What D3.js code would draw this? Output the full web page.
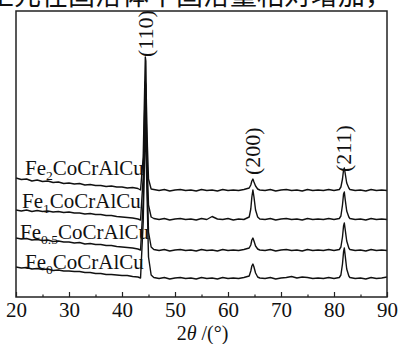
<!DOCTYPE html>
<html><head><meta charset="utf-8">
<script src="https://cdn.jsdelivr.net/npm/d3@7"></script>
<style>
html,body{margin:0;padding:0;background:#fff;}
svg{display:block;}
</style></head>
<body>
<script>
// ---------- data ----------
const twoTheta = [20,21,22,23,24,25,26,27,28,29,30,31,32,33,34,35,36,37,38,39,40,41,42,43,
  43.5,44.0,44.2,44.4,44.5,44.6,44.8,45.0,45.5,
  46,47,48,49,50,51,52,53,54,55,56,57,58,59,60,61,62,63,
  64.0,64.3,64.5,64.7,64.9,65.2,65.6,
  66,67,68,69,70,71,72,73,74,75,76,77,78,79,80,81,
  81.3,81.6,81.8,81.95,82.1,82.4,82.8,
  83,84,85,86,87,88,89,90];

const fe2 = [119,117.5,118,116,117,115.5,116,114.5,115,113.5,114,113,113.5,112,112.5,111.5,111.5,110.5,111,110,110,109,109.5,108.5,
  107,140,190,240,236,195,150,118,108,
  107.5,106.5,107.5,106,107,107.5,106.5,107,106,107.5,106.5,107,106,107.5,106.5,107,106.5,107.5,
  109,112,116,118,115,111,108,
  107,106.5,107.5,106,107,107.5,106.5,107,106,107.5,106.5,107,106.5,107.5,106.5,107.5,
  110,118,127,129,124,114,109,
  107.5,106.5,107,106,107.5,106.5,107,106.5];

const fe1 = [87,86,87,85.5,86.5,85.5,86,85,85.5,84.5,85,84,84,83,83.5,82.5,82.5,81.5,81.5,80.5,80,79.5,79,78,
  77,120,170,215,212,170,125,92,80,
  78.5,77.5,78.5,77,78,78.5,77.5,78,77,78.5,77.5,80.5,78,77.5,78.5,77,78,77.5,
  80,88,100,107,100,87,80,
  78,77.5,78.5,77,78,78.5,77.5,78,77,78.5,77.5,78,77.5,78.5,77.5,78.5,
  81,92,103,105,98,86,80,
  78.5,77.5,78,77,78.5,77.5,78,77.5];

const fe05 = [59,58,58.5,57,57.5,56.5,57,55.5,56,55,55,54,54.5,53,53.5,52.5,52.5,51.5,51.5,50.5,50,49.5,49,48,
  47,95,145,190,186,150,105,65,50,
  47.5,46.5,47.5,46,47,47.5,46.5,47,46,47.5,46.5,47,46,47.5,46.5,47,46.5,47.5,
  49,52,57,59,56,51,48,
  47,46.5,47.5,46,47,47.5,46.5,47,46,47.5,46.5,47,46.5,47.5,46.5,47.5,
  50,60,71,74,68,56,49,
  47.5,46.5,47,46,47.5,46.5,47,46.5];

const fe0 = [30,29,29.5,28,28.5,27.5,28,26.5,27,26,26,25.5,25.5,24.5,24.5,23.5,23.5,22.5,22.5,22,21.5,21.5,20.5,20,
  19,75,125,170,166,130,85,40,22,
  19.5,18.5,19.5,18,19,19.5,18.5,19,18,19.5,18.5,19,18,19.5,18.5,19,18.5,19.5,
  21,26,31,33,30,24,20,
  19,18.5,19.5,18,19,19.5,20.5,19,20,19.5,18.5,19,18.5,19.5,18.5,19.5,
  22,33,45,49,42,28,21,
  19.5,18.5,19,18,19.5,18.5,19,20];

const seriesNames = ["Fe2CoCrAlCu","Fe1CoCrAlCu","Fe0.5CoCrAlCu","Fe0CoCrAlCu"];
const labelBase = ["Fe","Fe","Fe","Fe"];
const labelSub = ["2","1","0.5","0"];
const labelRest = ["CoCrAlCu","CoCrAlCu","CoCrAlCu","CoCrAlCu"];
const peakLabels = ["(110)","(200)","(211)"];
const peakAngles = [44.5,64.7,81.9];
const xTicks = [20,30,40,50,60,70,80,90];
const xMinorTicks = [25,35,45,55,65,75,85];
const xTitle = ["2","θ"," /(°)"];
const caption = "生元在固溶体中固溶量相对增加，";

// ---------- layout ----------
const W = 398, H = 344;
const L = 16, R = 387, T = 11, B = 297;
const svg = d3.select("body").append("svg").attr("width", W).attr("height", H);

const x = d3.scaleLinear().domain([20, 90]).range([L, R]);
const y = d3.scaleLinear().domain([0, 286]).range([B, T]);

// caption (cut off at top, as in the source image)
svg.append("text").attr("x", -13).attr("y", 5)
  .attr("font-family", "'Noto Sans CJK SC'").attr("font-size", 27)
  .attr("fill", "#111").text(caption);

// traces
const allSeries = [fe2, fe1, fe05, fe0];
const line = d3.line().x((d, i) => x(twoTheta[i])).y(d => y(d));
svg.append("g").selectAll("path").data(allSeries).join("path")
  .attr("d", d => line(d))
  .attr("fill", "none").attr("stroke", "#111").attr("stroke-width", 1.4)
  .attr("stroke-linejoin", "round");

// frame
svg.append("rect").attr("x", L).attr("y", T).attr("width", R - L).attr("height", B - T)
  .attr("fill", "none").attr("stroke", "#222").attr("stroke-width", 1.5);

// x axis
const ax = svg.append("g").attr("transform", `translate(0,${B})`)
  .call(d3.axisBottom(x).tickValues(xTicks).tickSizeInner(-5).tickSizeOuter(0).tickPadding(5).tickFormat(d3.format("d")));
ax.select(".domain").remove();
ax.selectAll("line").attr("stroke", "#222").attr("stroke-width", 1.2);
ax.selectAll("text").attr("font-family", "'Liberation Serif'").attr("font-size", 21).attr("fill", "#111");

const axm = svg.append("g").attr("transform", `translate(0,${B})`)
  .call(d3.axisBottom(x).tickValues(xMinorTicks).tickSizeInner(-2.5).tickSizeOuter(0).tickFormat(""));
axm.select(".domain").remove();
axm.selectAll("line").attr("stroke", "#222").attr("stroke-width", 1.2);

// x title
const xt = svg.append("text").attr("x", (L + R) / 2 + 1).attr("y", 340)
  .attr("text-anchor", "middle").attr("font-family", "'Liberation Serif'")
  .attr("font-size", 20).attr("fill", "#111");
xt.append("tspan").text(xTitle[0]);
xt.append("tspan").attr("font-style", "italic").text(xTitle[1]);
xt.append("tspan").text(xTitle[2]);

// series labels
const labelX = [25, 22, 20, 25];
const labelY = [175, 208, 239, 269];
seriesNames.forEach((n, i) => {
  const t = svg.append("text")
    .attr("transform", `translate(${labelX[i]},${labelY[i]}) scale(1.05,1)`)
    .attr("font-family", "'Liberation Serif'").attr("font-size", 20).attr("fill", "#111");
  t.append("tspan").text(labelBase[i]);
  t.append("tspan").attr("font-size", 13).attr("dy", 5).text(labelSub[i]);
  t.append("tspan").attr("dy", -5).text(labelRest[i]);
});

// peak labels (rotated)
const peakBottom = [57, 175, 172];
peakLabels.forEach((p, i) => {
  const px = x(peakAngles[i]) + 7;
  svg.append("text")
    .attr("transform", `translate(${px},${peakBottom[i]}) rotate(-90)`)
    .attr("font-family", "'Liberation Serif'").attr("font-size", 22).attr("fill", "#111")
    .text(p);
});
</script>
</body></html>
